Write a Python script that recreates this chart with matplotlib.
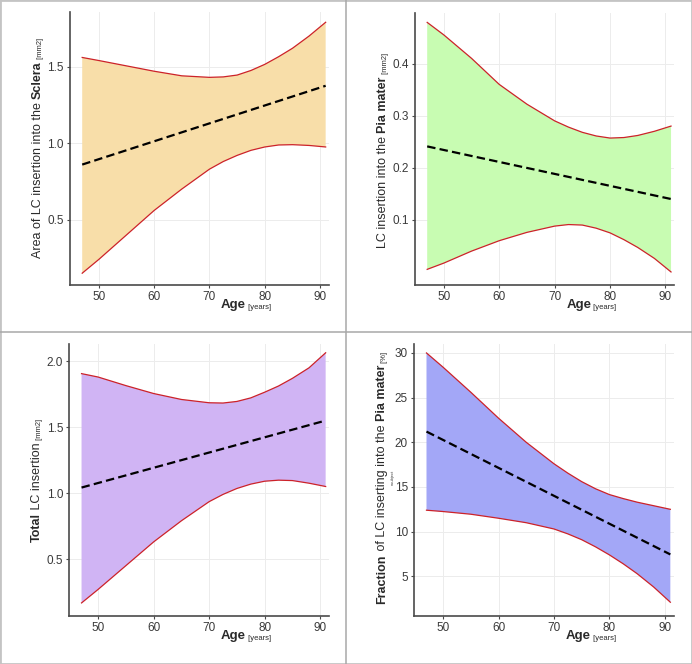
import matplotlib

matplotlib.use("Agg")
import matplotlib.pyplot as plt
from matplotlib.lines import Line2D

plt.rcParams["font.family"] = ["Liberation Sans", "DejaVu Sans"]

ages = [47, 50, 55, 60, 65, 70, 72.5, 75, 77.5, 80, 82.5, 85, 88, 91]
mean_ages = [47, 91]

# Area of LC insertion into the Sclera [mm2]
sclera_upper = [1.56, 1.54, 1.505, 1.47, 1.44, 1.43, 1.433, 1.445, 1.475, 1.515,
                1.565, 1.62, 1.70, 1.79]
sclera_lower = [0.15, 0.24, 0.40, 0.56, 0.70, 0.83, 0.88, 0.92, 0.953, 0.975,
                0.988, 0.99, 0.985, 0.975]
sclera_mean = [0.86, 1.375]

# LC insertion into the Pia mater [mm2]
pia_upper = [0.479, 0.455, 0.41, 0.36, 0.322, 0.29, 0.278, 0.268, 0.261, 0.257,
             0.258, 0.262, 0.27, 0.28]
pia_lower = [0.005, 0.017, 0.04, 0.06, 0.076, 0.088, 0.091, 0.09, 0.084, 0.075,
             0.062, 0.047, 0.026, 0.0]
pia_mean = [0.241, 0.140]

# Total LC insertion [mm2]
total_upper = [1.906, 1.88, 1.815, 1.755, 1.71, 1.685, 1.683, 1.695, 1.722, 1.765,
               1.812, 1.87, 1.95, 2.064]
total_lower = [0.167, 0.27, 0.45, 0.63, 0.79, 0.935, 0.99, 1.035, 1.068, 1.09,
               1.098, 1.095, 1.075, 1.05]
total_mean = [1.042, 1.55]

# Fraction of LC inserting into the Pia mater [%]
frac_upper = [30.0, 28.4, 25.6, 22.7, 20.0, 17.6, 16.55, 15.6, 14.8, 14.15,
              13.7, 13.3, 12.9, 12.5]
frac_lower = [12.4, 12.25, 11.95, 11.5, 11.0, 10.3, 9.75, 9.1, 8.3, 7.4,
              6.4, 5.3, 3.8, 2.1]
frac_mean = [21.2, 7.45]

x_ticks = [50, 60, 70, 80, 90]

TICK_COLOR = "#3a3a3a"
AXIS_COLOR = "#4a4a4a"
LABEL_COLOR = "#2a2a2a"
BAND_EDGE = "#cc2229"


def label_parts(ax, parts, x, y, rotation):
    """Draw a label made of several runs of text, each chained to the previous one."""
    prev = None
    for text, size, weight in parts:
        kw = dict(fontsize=size, fontweight=weight, color=LABEL_COLOR)
        if rotation:
            kw.update(rotation=90, ha="right", va="bottom")
        else:
            kw.update(ha="left", va="bottom")
        if prev is None:
            prev = ax.text(x, y, text, transform=ax.transAxes, **kw)
        else:
            xy = (1, 1) if rotation else (1, 0)
            prev = ax.annotate(text, xy=xy, xycoords=prev, **kw)
    return prev


def draw_panel(ax, upper, lower, mean, fill, ylim, yticks, ylabel, y0):
    ax.fill_between(ages, lower, upper, facecolor=fill, edgecolor="none", zorder=2)
    ax.plot(ages, upper, color=BAND_EDGE, lw=0.9, zorder=3)
    ax.plot(ages, lower, color=BAND_EDGE, lw=0.9, zorder=3)
    ax.plot(mean_ages, mean, color="black", lw=1.6, dashes=(3.8, 1.9), zorder=4)

    ax.set_xlim(44.8, 91.6)
    ax.set_ylim(*ylim)
    ax.set_xticks(x_ticks)
    ax.set_yticks(yticks)
    ax.grid(True, color="#ececec", lw=0.7, zorder=0)
    ax.set_axisbelow(True)
    for side in ["top", "right"]:
        ax.spines[side].set_visible(False)
    for side in ["left", "bottom"]:
        ax.spines[side].set_color(AXIS_COLOR)
        ax.spines[side].set_linewidth(1.2)
    ax.tick_params(axis="both", labelsize=8.5, colors=AXIS_COLOR,
                   labelcolor=TICK_COLOR, length=2.5, width=0.8, pad=2)

    label_parts(ax, ylabel, -0.102, y0, rotation=True)
    label_parts(ax, [("Age", 9.5, "bold"), (" [years]", 5.5, "normal")],
                0.583, -0.097, rotation=False)


fig = plt.figure(figsize=(6.92, 6.64), dpi=100)

ax1 = fig.add_axes([0.1012, 0.5708, 0.3742, 0.4111])
ax2 = fig.add_axes([0.5997, 0.5708, 0.3748, 0.4096])
ax3 = fig.add_axes([0.1002, 0.0723, 0.3752, 0.4101])
ax4 = fig.add_axes([0.5987, 0.0723, 0.3748, 0.4092])

draw_panel(ax1, sclera_upper, sclera_lower, sclera_mean, "#f8dea9",
           (0.073, 1.857), [0.5, 1.0, 1.5],
           [("Area of LC insertion into the ", 9, "normal"),
            ("Sclera", 9, "bold"), (" [mm2]", 5.5, "normal")], 0.099)
ax1.set_yticklabels(["0.5", "1.0", "1.5"])

draw_panel(ax2, pia_upper, pia_lower, pia_mean, "#c8fcb2",
           (-0.025, 0.497), [0.1, 0.2, 0.3, 0.4],
           [("LC insertion into the ", 9, "normal"),
            ("Pia mater", 9, "bold"), (" [mm2]", 5.5, "normal")], 0.135)
ax2.set_yticklabels(["0.1", "0.2", "0.3", "0.4"])

draw_panel(ax3, total_upper, total_lower, total_mean, "#d0b4f4",
           (0.068, 2.133), [0.5, 1.0, 1.5, 2.0],
           [("Total", 9, "bold"), (" LC insertion", 9, "normal"),
            (" [mm2]", 5.5, "normal")], 0.272)
ax3.set_yticklabels(["0.5", "1.0", "1.5", "2.0"])

draw_panel(ax4, frac_upper, frac_lower, frac_mean, "#a3a7f7",
           (0.56, 30.97), [5, 10, 15, 20, 25, 30],
           [("Fraction", 9, "bold"), (" of LC inserting into the ", 9, "normal"),
            ("Pia mater", 9, "bold"), (" [%]", 5.5, "normal")], 0.045)
ax4.text(-0.083, 0.51, "nsubject", transform=ax4.transAxes, rotation=90,
         ha="center", va="center", fontsize=3, color="#444444")

# panel frame lines
fig.add_artist(Line2D([0.5, 0.5], [0, 1], transform=fig.transFigure,
                      color="#a8a8a8", lw=1.1))
fig.add_artist(Line2D([0, 1], [0.5, 0.5], transform=fig.transFigure,
                      color="#a8a8a8", lw=1.1))
fig.add_artist(plt.Rectangle((0, 0), 1, 1, transform=fig.transFigure,
                             fill=False, edgecolor="#c4c4c4", lw=2.0))

fig.savefig("out.png", dpi=100)
